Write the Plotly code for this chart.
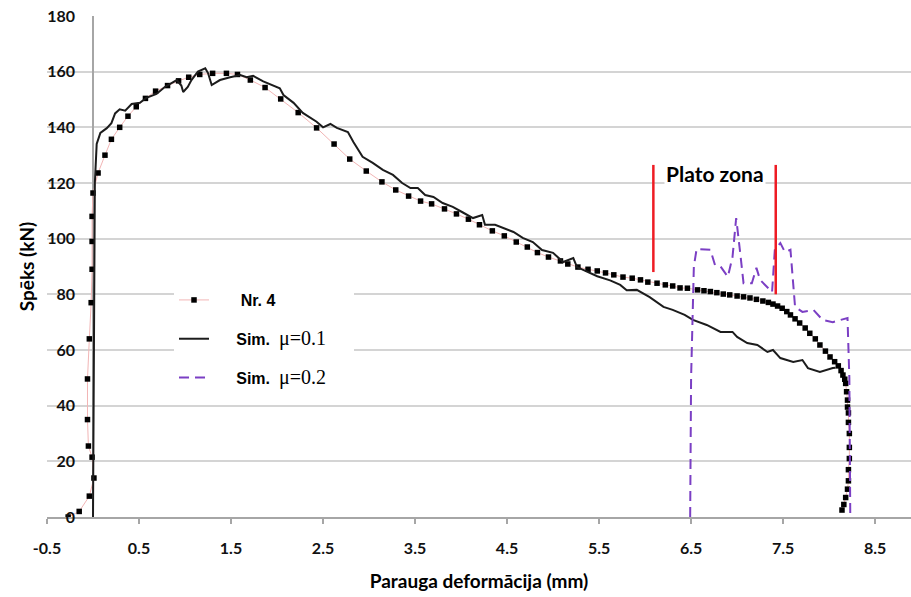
import plotly.graph_objects as go

# ---------------- data ----------------
nr4_x = [-0.27, -0.15, -0.04, 0.01, -0.01, -0.05, -0.06, -0.06, -0.04, -0.02,
         -0.01, -0.01, -0.01, 0.00, 0.055, 0.13, 0.20, 0.29, 0.38, 0.47,
         0.57, 0.68, 0.81, 0.93, 1.04, 1.16, 1.30, 1.45, 1.57, 1.71,
         1.87, 2.04, 2.23, 2.43, 2.62, 2.79, 2.97, 3.14, 3.29, 3.43,
         3.56, 3.68, 3.82, 3.95, 4.08, 4.20, 4.34, 4.47, 4.60, 4.72,
         4.83, 4.95, 5.08, 5.16, 5.27, 5.38, 5.48, 5.57, 5.66, 5.76,
         5.86, 5.95, 6.03, 6.13, 6.22, 6.30, 6.38, 6.46, 6.57, 6.64,
         6.71, 6.78, 6.85, 6.92, 7.00, 7.07, 7.14, 7.21, 7.28, 7.34,
         7.39, 7.44, 7.49, 7.54, 7.58, 7.63, 7.68, 7.74, 7.79, 7.85,
         7.90, 7.96, 8.01, 8.06, 8.10, 8.13, 8.15, 8.17, 8.18, 8.19,
         8.20, 8.20, 8.21, 8.21, 8.22, 8.22, 8.22, 8.21, 8.21, 8.20,
         8.18, 8.16, 8.14]
nr4_y = [0, 2, 7.5, 14, 21.5, 25.5, 35, 49.6, 64, 77,
         89, 99, 108, 116.4, 123.6, 130, 135.7, 140, 144, 147.4,
         150.4, 153, 155, 156.7, 158, 159, 159.4, 159.4, 159, 157,
         154.3, 150.2, 145.3, 139.8, 134, 128.6, 124.3, 120.4, 117.5, 115.3,
         113.5, 112.5, 110.7, 108.9, 107, 105, 102.8, 101, 98.8, 97,
         95, 93.4, 92, 90.9, 89.8, 89, 88.4, 87.7, 87, 86.2,
         85.8, 85.2, 84.4, 84, 83.4, 83, 82.3, 82.2, 81.6, 81.3,
         81, 80.6, 80.1, 79.8, 79.4, 79.1, 78.7, 78.2, 77.6, 77.1,
         76.5, 75.8, 75, 73.8, 72.6, 71.2, 69.7, 67.9, 66, 64,
         61.8, 59.6, 57.5, 55.8, 54.3, 52.6, 51, 49.5, 48, 45,
         42, 39.5, 37.4, 34, 30, 25, 21, 17, 13, 10,
         7, 4.5, 2.5]

sim1_x = [0.00, 0.01, 0.02, 0.04, 0.08, 0.15, 0.20, 0.24, 0.29, 0.35,
          0.42, 0.51, 0.58, 0.69, 0.78, 0.91, 0.96, 0.98, 1.03, 1.07,
          1.14, 1.22, 1.25, 1.29, 1.38, 1.49, 1.60, 1.67, 1.74, 1.85,
          1.94, 2.03, 2.07, 2.18, 2.28, 2.43, 2.50, 2.58, 2.65, 2.77,
          2.83, 2.93, 3.04, 3.15, 3.26, 3.36, 3.45, 3.53, 3.61, 3.70,
          3.80, 3.91, 4.02, 4.13, 4.23, 4.26, 4.37, 4.46, 4.57, 4.67,
          4.78, 4.88, 5.00, 5.11, 5.22, 5.26, 5.37, 5.48, 5.62, 5.73,
          5.80, 5.91, 6.05, 6.20, 6.30, 6.43, 6.52, 6.67, 6.82, 6.95,
          7.00, 7.11, 7.22, 7.33, 7.39, 7.47, 7.61, 7.71, 7.77, 7.90,
          8.04, 8.07]
sim1_y = [0, 60, 120, 134, 138, 139.7, 141.5, 145, 146.5, 146,
          148.4, 148.8, 150.6, 152, 154.5, 157, 155, 152.7, 154.5, 157,
          160, 161.2, 159.5, 155.2, 157, 158, 158.8, 158, 158.5, 156.5,
          155.2, 154, 151.6, 148.8, 145.2, 142, 140, 141.2, 139.8, 138.3,
          134.7, 129.4, 127.2, 124.7, 122.9, 120, 118.2, 118.2, 115.7, 115,
          112.8, 111.4, 109.4, 107.4, 108.5, 105, 105, 103.8, 102.4, 100.3,
          98.8, 95.9, 94.9, 91.6, 93, 89.8, 88, 86.5, 85, 83.4,
          81.5, 81.6, 79, 75.5, 74.4, 72.6, 70.8, 69, 66.5, 66.5,
          64.7, 62.5, 61.8, 59.3, 60, 57.1, 55.7, 56.4, 53.5, 52.1,
          53.5, 53.6]

sim2_x = [6.49, 6.50, 6.53, 6.56, 6.71, 6.76, 6.82, 6.90, 6.95, 6.99,
          7.03, 7.07, 7.16, 7.21, 7.25, 7.32, 7.38, 7.41, 7.47, 7.52,
          7.58, 7.63, 7.71, 7.83, 7.93, 8.04, 8.12, 8.20, 8.22, 8.23]
sim2_y = [0, 50, 90, 96.3, 96, 90.5, 90, 86.3, 93.4, 107.4,
          96, 84, 84, 89.5, 85.2, 82.7, 80.8, 96, 98.4, 95.2,
          96, 75.5, 73.7, 74.4, 70.8, 70, 70.8, 71.5, 50, 0]

zone_x = [6.09, 7.42]
zone_top = [126.5, 126.5]
zone_bottom = [88, 80]

x_ticks = [-0.5, 0.5, 1.5, 2.5, 3.5, 4.5, 5.5, 6.5, 7.5, 8.5]
y_ticks = [0, 20, 40, 60, 80, 100, 120, 140, 160, 180]

LAB = "Lato"
serif = "<span style=\"font-family:Liberation Serif;font-size:20px;font-weight:normal\">"
sp = "\u00a0"

fig = go.Figure()

fig.add_trace(go.Scatter(
    x=nr4_x, y=nr4_y, mode="lines+markers", name=sp * 6 + "Nr. 4",
    line=dict(color="#f2b5b5", width=1),
    marker=dict(symbol="square", size=5.5, color="#000000"),
    legendgroup="a"))
fig.add_trace(go.Scatter(
    x=sim1_x, y=sim1_y, mode="lines",
    name=sp * 5 + "Sim." + sp * 2 + serif + "μ=0.1</span>" + sp * 5,
    line=dict(color="#1c1c1c", width=2), legendgroup="b"))
fig.add_trace(go.Scatter(
    x=sim2_x, y=sim2_y, mode="lines",
    name=sp * 5 + "Sim." + sp * 2 + serif + "μ=0.2</span>" + sp * 5,
    line=dict(color="#7b3fc4", width=2, dash="10px,6px"), legendgroup="c"))

for i in range(len(zone_x)):
    fig.add_trace(go.Scatter(
        x=[zone_x[i], zone_x[i]], y=[zone_bottom[i], zone_top[i]],
        mode="lines", line=dict(color="#ee1c24", width=2.5),
        showlegend=False, hoverinfo="skip"))

fig.add_annotation(x=(zone_x[0] + zone_x[1]) / 2, y=123.5, text="Plato zona",
                   showarrow=False, bgcolor="white",
                   font=dict(family=LAB, size=21, color="#000", weight="bold"))

fig.update_layout(
    width=911, height=597,
    margin=dict(l=47, r=0, t=16, b=80, autoexpand=False),
    paper_bgcolor="white", plot_bgcolor="white",
    showlegend=True,
    legend=dict(x=0.147, y=0.467, xanchor="left", yanchor="top",
                bgcolor="white", borderwidth=0, tracegroupgap=15,
                font=dict(family="Liberation Sans", size=16, color="#000", weight="bold"),
                itemwidth=30),
    xaxis=dict(range=[-0.5, 8.89], tickmode="array", tickvals=x_ticks,
               ticktext=[str(v) for v in x_ticks], automargin=False,
               showgrid=False, showline=True, linecolor="#a6a6a6", linewidth=1.5,
               ticks="outside", ticklen=5, tickcolor="#a6a6a6", tickwidth=1.5,
               ticklabelstandoff=11, ticklabeloverflow="allow",
               zeroline=True, zerolinecolor="#a6a6a6", zerolinewidth=1.5,
               tickfont=dict(family=LAB, size=16, color="#111", weight="bold"),
               title=dict(text="Parauga deformācija (mm)", standoff=19,
                          font=dict(family=LAB, size=19, color="#000", weight="bold"))),
    yaxis=dict(range=[0, 180], tickmode="array", tickvals=y_ticks,
               anchor="free", position=0.0325, automargin=False,
               ticklabeloverflow="allow",
               showgrid=True, gridcolor="#d4d4d4", gridwidth=1.5,
               showline=False, zeroline=False, ticks="",
               tickfont=dict(family=LAB, size=16, color="#111", weight="bold"),
               title=dict(text="Spēks (kN)", standoff=6,
                          font=dict(family=LAB, size=19, color="#000", weight="bold"))),
)

# remove the default 8px page margin so the figure sits at the window's corner
fig.write_html("out.html", config={"displayModeBar": False},
               post_script="document.body.style.margin='0';document.body.style.overflow='hidden';")
